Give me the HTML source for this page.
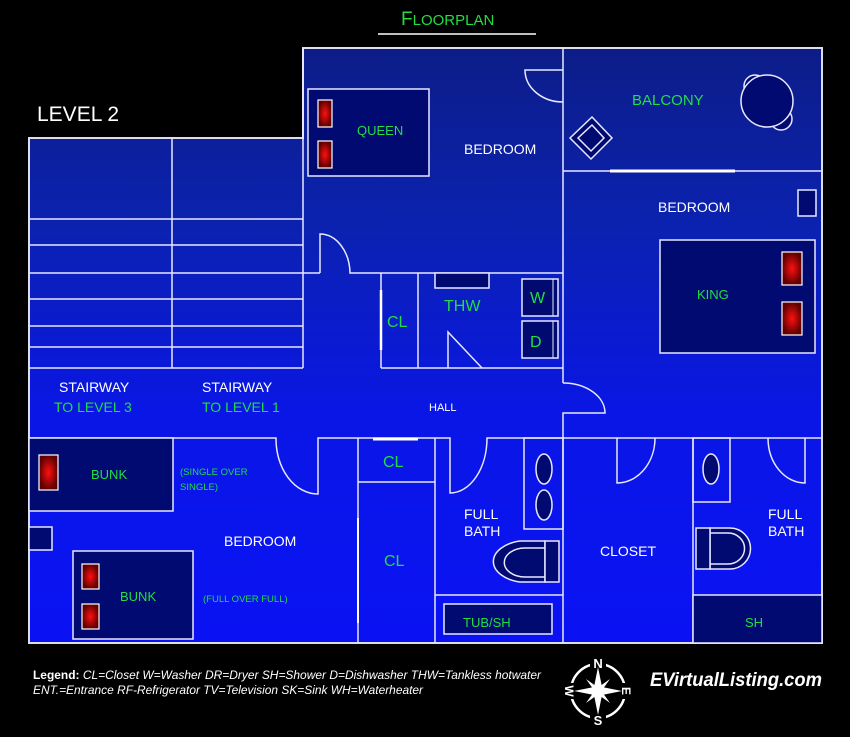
<!DOCTYPE html>
<html><head><meta charset="utf-8"><style>
html,body{margin:0;padding:0;background:#000;}
svg{display:block;}
text{font-family:"Liberation Sans",sans-serif;}
</style></head><body>
<svg width="850" height="737" viewBox="0 0 850 737" xmlns="http://www.w3.org/2000/svg">
<defs>
<linearGradient id="bg" x1="0" y1="48" x2="0" y2="643" gradientUnits="userSpaceOnUse">
<stop offset="0" stop-color="#0c1d88"/><stop offset="0.3" stop-color="#0b22b0"/><stop offset="0.62" stop-color="#0a16e6"/><stop offset="1" stop-color="#0a12f4"/>
</linearGradient>
<radialGradient id="pl"><stop offset="0" stop-color="#ff1010"/><stop offset="1" stop-color="#600000"/></radialGradient>
</defs>
<rect width="850" height="737" fill="#000"/>
<path d="M303,48 H822 V643 H29 V138 H303 Z" fill="url(#bg)" stroke="#dde" stroke-width="2"/>
<g fill="none" stroke="#e8e8ff" stroke-width="1.5">
<line x1="172" y1="138" x2="172" y2="368"/>
<line x1="29" y1="219" x2="303" y2="219"/>
<line x1="29" y1="245" x2="303" y2="245"/>
<line x1="29" y1="273" x2="320" y2="273"/>
<line x1="29" y1="299" x2="303" y2="299"/>
<line x1="29" y1="326" x2="303" y2="326"/>
<line x1="29" y1="347" x2="303" y2="347"/>
<line x1="29" y1="368" x2="303" y2="368"/>
<line x1="303" y1="48" x2="303" y2="368"/>
<path d="M320,273 V234 A30,40 0 0 1 350,273 H563"/>
<path d="M563,70 H525 A38,32 0 0 0 563,102"/>
<line x1="563" y1="48" x2="563" y2="383"/>
<path d="M563,383 A42,30 0 0 1 605,413 H563 V643"/>
<line x1="563" y1="171" x2="822" y2="171"/>
<line x1="381" y1="273" x2="381" y2="368"/>
<line x1="418" y1="273" x2="418" y2="368"/>
<line x1="381" y1="368" x2="563" y2="368"/>
<path d="M448,368 V332 L482,368"/>
<path d="M29,438 H276 A42,55 0 0 0 318,494 V438 H450 V493 A37,55 0 0 0 487,438 H822"/>
<line x1="358" y1="438" x2="358" y2="643"/>
<line x1="435" y1="438" x2="435" y2="643"/>
<line x1="358" y1="482" x2="435" y2="482"/>
<path d="M617,438 V483 A38,45 0 0 0 655,438"/>
<path d="M768,438 A37,45 0 0 0 805,483 V438"/>
<line x1="693" y1="438" x2="693" y2="643"/>
<line x1="435" y1="595" x2="563" y2="595"/>
<rect x="524" y="438" width="39" height="91"/>
<rect x="693" y="438" width="37" height="64"/>
</g>
<line x1="610" y1="171" x2="735" y2="171" stroke="#fff" stroke-width="3"/>
<line x1="373" y1="439" x2="418" y2="439" stroke="#fff" stroke-width="3"/>
<line x1="358" y1="518" x2="358" y2="623" stroke="#fff" stroke-width="2"/>
<line x1="381" y1="290" x2="381" y2="350" stroke="#fff" stroke-width="2.5"/>
<g fill="#000a70" stroke="#e8e8ff" stroke-width="1.5">
<rect x="308" y="89" width="121" height="87"/>
<rect x="660" y="240" width="155" height="113"/>
<rect x="798" y="190" width="18" height="26"/>
<rect x="435" y="273" width="54" height="15"/>
<rect x="522" y="279" width="36" height="37"/>
<rect x="522" y="321" width="36" height="37"/>
<rect x="29" y="438" width="144" height="73"/>
<rect x="29" y="527" width="23" height="23"/>
<rect x="73" y="551" width="120" height="88"/>
<rect x="444" y="604" width="108" height="30"/>
<rect x="693" y="595" width="129" height="48"/>
<ellipse cx="544" cy="469" rx="8" ry="15"/>
<ellipse cx="544" cy="505" rx="8" ry="15"/>
<ellipse cx="711" cy="469" rx="8" ry="15"/>
<circle cx="755" cy="86" r="11"/>
<circle cx="781" cy="119" r="11"/>
<circle cx="767" cy="101" r="26"/>
<polygon points="592,117 612,138 591,159 570,138"/>
<polygon points="592,125 604,138 591,151 578,138"/>
<path d="M545,541 H520 A34,21 0 0 0 520,582 H545 Z"/>
<path d="M545,548 H525 A20,14 0 0 0 525,577 H545 Z"/>
<rect x="545" y="541" width="14" height="41"/>
<path d="M710,528 H730 A20,20 0 0 1 730,569 H710 Z"/>
<path d="M710,533 H728 A16,15 0 0 1 728,564 H710 Z"/>
<rect x="696" y="528" width="14" height="41"/>
</g>
<line x1="553" y1="279" x2="553" y2="316" stroke="#e8e8ff"/>
<line x1="553" y1="321" x2="553" y2="358" stroke="#e8e8ff"/>
<g fill="url(#pl)" stroke="#fff" stroke-width="1.2">
<rect x="318" y="100" width="14" height="27"/>
<rect x="318" y="141" width="14" height="27"/>
<rect x="782" y="252" width="20" height="33"/>
<rect x="782" y="302" width="20" height="33"/>
<rect x="39" y="455" width="19" height="35"/>
<rect x="82" y="564" width="17" height="25"/>
<rect x="82" y="604" width="17" height="25"/>
</g>
<g fill="#fff" font-size="14">
<text x="37" y="121" font-size="21">LEVEL 2</text>
<text x="464" y="154">BEDROOM</text>
<text x="658" y="212">BEDROOM</text>
<text x="59" y="392">STAIRWAY</text>
<text x="202" y="392">STAIRWAY</text>
<text x="429" y="411" font-size="11">HALL</text>
<text x="224" y="546">BEDROOM</text>
<text x="464" y="519">FULL</text>
<text x="464" y="536">BATH</text>
<text x="768" y="519">FULL</text>
<text x="768" y="536">BATH</text>
<text x="600" y="556">CLOSET</text>
</g>
<g fill="#22dd44" font-size="14">
<text x="401" y="25" font-size="19">F<tspan font-size="15">LOORPLAN</tspan></text>
<text x="357" y="135" font-size="13">QUEEN</text>
<text x="632" y="105" font-size="15">BALCONY</text>
<text x="697" y="299" font-size="13">KING</text>
<text x="387" y="327" font-size="16">CL</text>
<text x="444" y="311" font-size="16">THW</text>
<text x="530" y="303" font-size="16">W</text>
<text x="530" y="347" font-size="16">D</text>
<text x="54" y="412">TO LEVEL 3</text>
<text x="202" y="412">TO LEVEL 1</text>
<text x="91" y="479" font-size="13">BUNK</text>
<text x="120" y="601" font-size="13">BUNK</text>
<text x="180" y="475" font-size="9.5">(SINGLE OVER</text>
<text x="180" y="490" font-size="9.5">SINGLE)</text>
<text x="203" y="602" font-size="9.5">(FULL OVER FULL)</text>
<text x="383" y="467" font-size="16">CL</text>
<text x="384" y="566" font-size="16">CL</text>
<text x="463" y="627" font-size="13">TUB/SH</text>
<text x="745" y="627" font-size="13">SH</text>
</g>
<line x1="378" y1="34" x2="536" y2="34" stroke="#fff" stroke-width="1.5"/>
<g fill="#fff" font-size="12" font-style="italic">
<text x="33" y="679" textLength="508" lengthAdjust="spacingAndGlyphs"><tspan font-weight="bold" font-style="normal">Legend:</tspan> CL=Closet  W=Washer  DR=Dryer SH=Shower  D=Dishwasher  THW=Tankless hotwater</text>
<text x="33" y="694" textLength="390" lengthAdjust="spacingAndGlyphs">ENT.=Entrance RF-Refrigerator TV=Television  SK=Sink  WH=Waterheater</text>
<text x="650" y="686" font-size="19" font-weight="bold" textLength="172" lengthAdjust="spacingAndGlyphs">EVirtualListing.com</text>
</g>
<g transform="translate(598,691)">
<circle r="27" fill="none" stroke="#fff" stroke-width="2.5"/>
<rect x="-8" y="-34" width="16" height="12" fill="#000"/><rect x="-8" y="22" width="16" height="12" fill="#000"/>
<rect x="-34" y="-8" width="12" height="16" fill="#000"/><rect x="22" y="-8" width="12" height="16" fill="#000"/>
<polygon points="0,-24 4,-4 24,0 4,4 0,24 -4,4 -24,0 -4,-4" fill="#fff"/>
<polygon points="-12,-12 2,-2 12,12 -2,2" fill="#fff"/>
<polygon points="12,-12 2,2 -12,12 -2,-2" fill="#fff"/>
<text x="0" y="-23" font-size="13" font-weight="bold" fill="#fff" text-anchor="middle">N</text>
<text x="0" y="34" font-size="13" font-weight="bold" fill="#fff" text-anchor="middle">S</text>
<text x="-28" y="5" font-size="12" font-weight="bold" fill="#fff" text-anchor="middle" transform="rotate(90,-28,0)">W</text>
<text x="29" y="5" font-size="12" font-weight="bold" fill="#fff" text-anchor="middle" transform="rotate(90,29,0)">E</text>
</g>
</svg>
</body></html>
